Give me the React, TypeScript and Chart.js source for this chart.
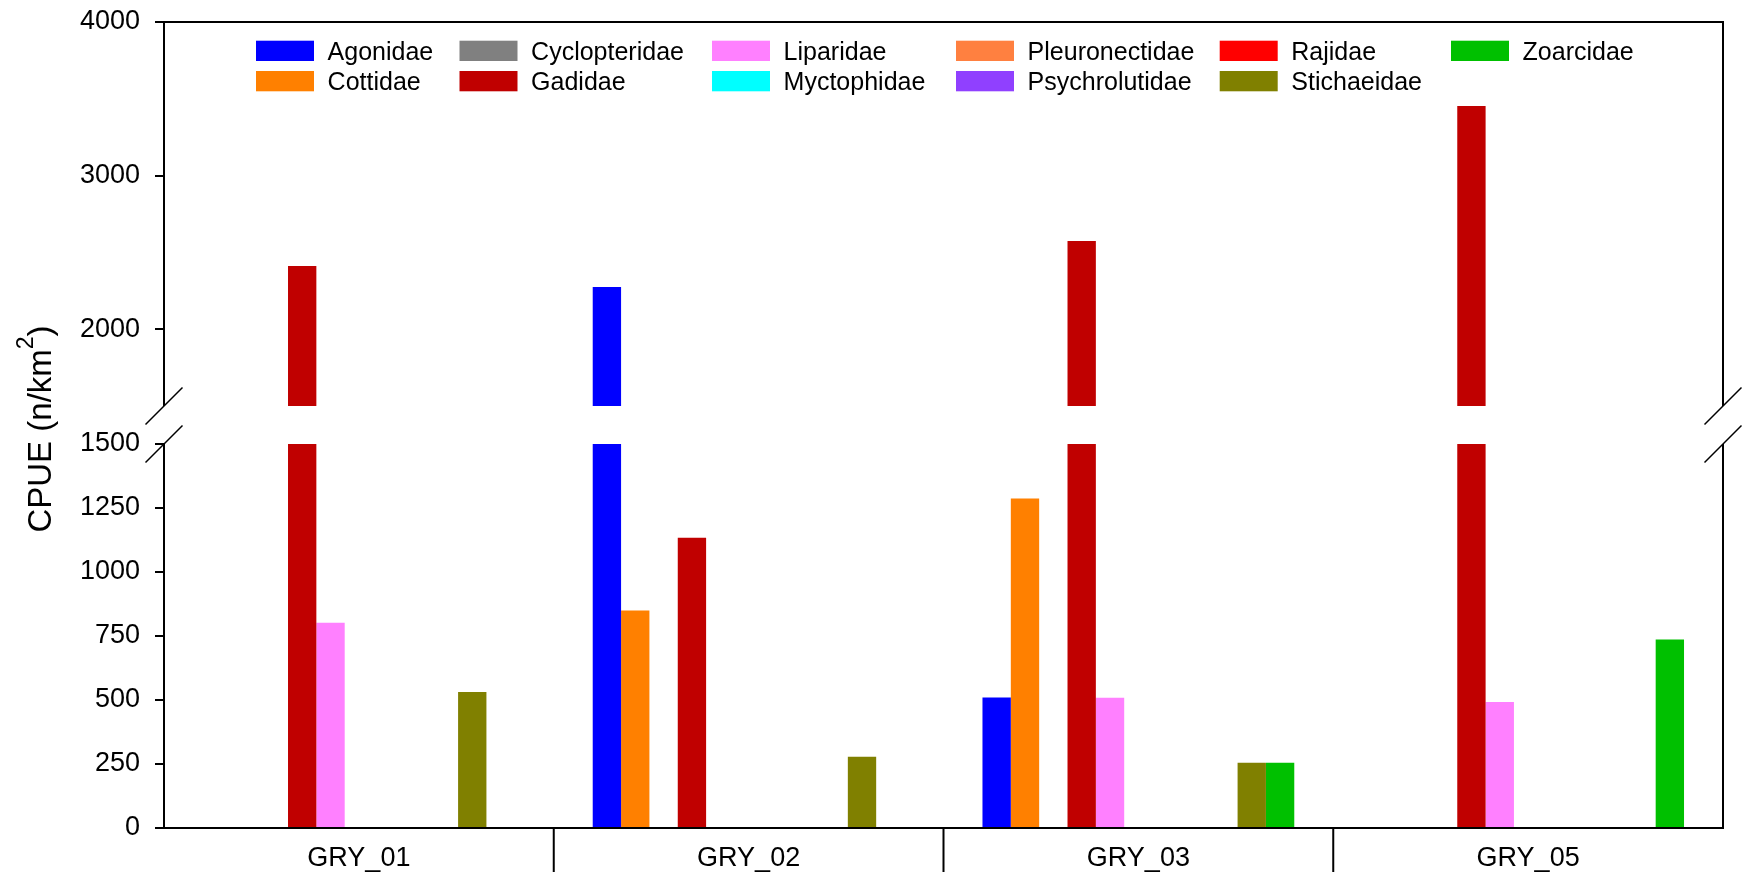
import React, { useEffect, useRef } from 'react';
import { Chart, registerables, LinearScale } from 'chart.js';

// ---------------- data ----------------
const CATEGORIES = ['GRY_01', 'GRY_02', 'GRY_03', 'GRY_05'];
const SPECIES = [
  'Agonidae', 'Cottidae', 'Cyclopteridae', 'Gadidae', 'Liparidae', 'Myctophidae',
  'Pleuronectidae', 'Psychrolutidae', 'Rajidae', 'Stichaeidae', 'Zoarcidae',
];
const COLORS = [
  '#0000FF', '#FF8000', '#808080', '#C00000', '#FF80FF', '#00FFFF',
  '#FF8040', '#9040FF', '#FF0000', '#808000', '#00C000',
];
const agonidae = [0, 2275, 510, 0];
const cottidae = [0, 850, 1287, 0];
const cyclopteridae = [0, 0, 0, 0];
const gadidae = [2411, 1134, 2574, 3453];
const liparidae = [802, 0, 509, 492];
const myctophidae = [0, 0, 0, 0];
const pleuronectidae = [0, 0, 0, 0];
const psychrolutidae = [0, 0, 0, 0];
const rajidae = [0, 0, 0, 0];
const stichaeidae = [531, 278, 255, 0];
const zoarcidae = [0, 0, 255, 736];
const SERIES = [
  agonidae, cottidae, cyclopteridae, gadidae, liparidae, myctophidae,
  pleuronectidae, psychrolutidae, rajidae, stichaeidae, zoarcidae,
];
const Y_TICKS = [0, 250, 500, 750, 1000, 1250, 1500, 2000, 3000, 4000];
const Y_MIN = 0;
const BREAK_AT = 1500;
const Y_MAX = 4000;

// ---------------- layout constants ----------------
const W = 1752;
const H = 877;
const LOWER_FRAC = 384 / 806;
const GAP_FRAC = 38 / 806;
const FONT = "'Liberation Sans', Arial, Helvetica, sans-serif";

// Custom broken linear scale: 0-1500 in the lower panel, 1500-4000 in the upper one
class BrokenLinearScale extends LinearScale {
  static id = 'brokenLinear';
  static defaults = LinearScale.defaults;

  buildTicks() {
    (this as any).start = (this as any).min;
    (this as any).end = (this as any).max;
    return Y_TICKS.map((value) => ({ value }));
  }

  getPixelForValue(value: number) {
    const self = this as any;
    if (value === null || value === undefined || isNaN(value)) return NaN;
    const h = self.bottom - self.top;
    const lowH = h * LOWER_FRAC;
    const gapH = h * GAP_FRAC;
    const upH = h - lowH - gapH;
    if (value <= BREAK_AT) {
      return self.bottom - ((value - Y_MIN) / (BREAK_AT - Y_MIN)) * lowH;
    }
    return self.bottom - lowH - gapH - ((value - BREAK_AT) / (Y_MAX - BREAK_AT)) * upH;
  }

  getValueForPixel(pixel: number) {
    const self = this as any;
    const h = self.bottom - self.top;
    const lowH = h * LOWER_FRAC;
    const gapH = h * GAP_FRAC;
    const upH = h - lowH - gapH;
    const d = self.bottom - pixel;
    if (d <= lowH) return Y_MIN + (d / lowH) * (BREAK_AT - Y_MIN);
    if (d <= lowH + gapH) return BREAK_AT;
    return BREAK_AT + ((d - lowH - gapH) / upH) * (Y_MAX - BREAK_AT);
  }
}

Chart.register(...registerables, BrokenLinearScale as any);

const LEGEND_COL_X = [256, 459.5, 712, 956, 1219.7, 1451];
const LEGEND_ROW_TOP = [40.7, 71];
const SWATCH_W = 58;
const SWATCH_H = 20.3;
const LEGEND_TEXT_DX = 71.6;

const decorPlugin = {
  id: 'decor',
  afterDatasetsDraw(chart: any) {
    const { ctx, chartArea } = chart;
    const { left, right, top, bottom } = chartArea;
    const h = bottom - top;
    const gapBottom = bottom - h * LOWER_FRAC;
    const gapTop = gapBottom - h * GAP_FRAC;
    ctx.save();
    // blank the broken region
    ctx.fillStyle = '#ffffff';
    ctx.fillRect(left + 1, gapTop, right - left - 2, gapBottom - gapTop);

    // frame
    ctx.strokeStyle = '#000000';
    ctx.lineWidth = 2;
    ctx.lineJoin = 'miter';
    ctx.beginPath();
    ctx.moveTo(left, gapTop);
    ctx.lineTo(left, top);
    ctx.lineTo(right, top);
    ctx.lineTo(right, gapTop);
    ctx.moveTo(left, gapBottom);
    ctx.lineTo(left, bottom);
    ctx.lineTo(right, bottom);
    ctx.lineTo(right, gapBottom);
    ctx.stroke();

    // break slashes
    ctx.lineWidth = 1.5;
    const s = 18.5;
    ctx.beginPath();
    for (const x0 of [left, right]) {
      for (const y0 of [gapTop, gapBottom]) {
        ctx.moveTo(x0 - s, y0 + s);
        ctx.lineTo(x0 + s, y0 - s);
      }
    }
    ctx.stroke();

    // category divider ticks
    const xs = chart.scales.x;
    ctx.lineWidth = 2;
    ctx.beginPath();
    for (let i = 1; i < CATEGORIES.length; i++) {
      const px = (xs.getPixelForValue(i - 1) + xs.getPixelForValue(i)) / 2;
      ctx.moveTo(px, bottom);
      ctx.lineTo(px, bottom + 44);
    }
    ctx.stroke();
    ctx.restore();
  },
  afterDraw(chart: any) {
    const { ctx, chartArea } = chart;
    ctx.save();
    // legend (column-major, 2 rows)
    ctx.font = `25px ${FONT}`;
    ctx.textBaseline = 'alphabetic';
    ctx.textAlign = 'left';
    chart.data.datasets.forEach((ds: any, i: number) => {
      const col = Math.floor(i / 2);
      const row = i % 2;
      const x = LEGEND_COL_X[col];
      const y = LEGEND_ROW_TOP[row];
      ctx.fillStyle = ds.backgroundColor;
      ctx.fillRect(x, y, SWATCH_W, SWATCH_H);
      ctx.fillStyle = '#000000';
      ctx.fillText(ds.label, x + LEGEND_TEXT_DX, y + SWATCH_H - 1);
    });

    // y-axis title with superscript
    const cy = (chartArea.top + chartArea.bottom) / 2 + 4;
    ctx.translate(51, cy);
    ctx.rotate(-Math.PI / 2);
    const mainFont = `33px ${FONT}`;
    const supFont = `23px ${FONT}`;
    const t1 = 'CPUE (n/km';
    const t2 = '2';
    const t3 = ')';
    ctx.font = mainFont;
    const w1 = ctx.measureText(t1).width;
    const w3 = ctx.measureText(t3).width;
    ctx.font = supFont;
    const w2 = ctx.measureText(t2).width;
    let x = -(w1 + w2 + w3) / 2;
    ctx.fillStyle = '#000000';
    ctx.textBaseline = 'alphabetic';
    ctx.font = mainFont;
    ctx.fillText(t1, x, 0);
    x += w1;
    ctx.font = supFont;
    ctx.fillText(t2, x, -18);
    x += w2;
    ctx.font = mainFont;
    ctx.fillText(t3, x, 0);
    ctx.restore();
  },
};

export default function App() {
  const canvasRef = useRef<HTMLCanvasElement | null>(null);

  useEffect(() => {
    if (!canvasRef.current) return;
    Chart.defaults.font.family = FONT;
    const chart = new Chart(canvasRef.current, {
      type: 'bar',
      data: {
        labels: CATEGORIES,
        datasets: SPECIES.map((name, i) => ({
          label: name,
          data: SERIES[i],
          backgroundColor: COLORS[i],
          borderWidth: 0,
          categoryPercentage: 0.8,
          barPercentage: 1.0,
        })),
      },
      options: {
        responsive: false,
        maintainAspectRatio: false,
        animation: false,
        events: [],
        layout: { padding: { top: 22, right: 29, bottom: 0, left: 0 } },
        plugins: {
          legend: { display: false },
          tooltip: { enabled: false },
          title: { display: false },
        },
        scales: {
          x: {
            type: 'category',
            offset: true,
            grid: { display: false, drawTicks: false },
            border: { display: false },
            ticks: {
              color: '#000000',
              font: { size: 27, family: FONT },
              padding: 14,
              autoSkip: false,
              maxRotation: 0,
            },
            afterFit: (s: any) => {
              s.height = 49;
              s.paddingLeft = 0;
              s.paddingRight = 0;
            },
          },
          y: {
            type: 'brokenLinear' as any,
            min: Y_MIN,
            max: Y_MAX,
            grid: {
              drawOnChartArea: false,
              drawTicks: true,
              tickLength: 9,
              color: '#000000',
              lineWidth: 2,
            },
            border: { display: false },
            ticks: {
              color: '#000000',
              font: { size: 27, family: FONT },
              padding: 15,
              autoSkip: false,
              callback: (v: any) => String(v),
            },
            afterFit: (s: any) => {
              s.width = 164;
              s.paddingTop = 0;
              s.paddingBottom = 0;
            },
          } as any,
        },
      },
      plugins: [decorPlugin],
    });
    return () => chart.destroy();
  }, []);

  return (
    <div style={{ position: 'absolute', left: 0, top: 0, width: W, height: H, background: '#ffffff' }}>
      <canvas ref={canvasRef} width={W} height={H} style={{ display: 'block', width: W, height: H }} />
    </div>
  );
}
